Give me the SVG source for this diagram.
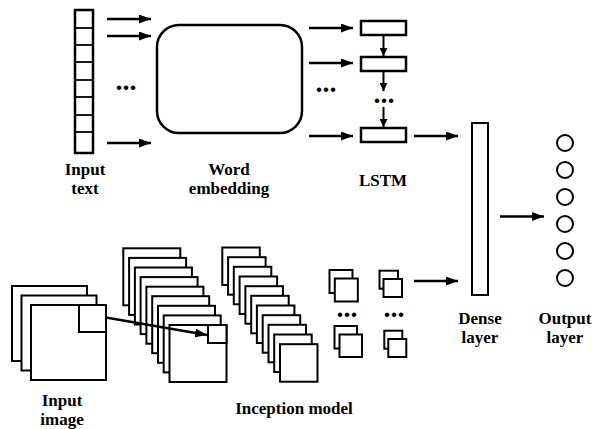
<svg xmlns="http://www.w3.org/2000/svg" width="592" height="429" viewBox="0 0 592 429">
<style>
.lbl{font-family:"Liberation Serif","Times New Roman",serif;font-weight:bold;font-size:17px;fill:#000;text-anchor:middle}
.dots{font-family:"Liberation Serif","Times New Roman",serif;font-weight:bold;font-size:28px;fill:#000}
.box{fill:#fff;stroke:#000;stroke-width:2.5}
.sq{fill:#fff;stroke:#000;stroke-width:2}
.cell{stroke:#000;stroke-width:1.8}
.arr{stroke:#000;stroke-width:2.5;fill:none;marker-end:url(#ah)}
.arrs{stroke:#000;stroke-width:2;fill:none;marker-end:url(#ahs)}
</style>
<defs>
<marker id="ah" markerUnits="userSpaceOnUse" markerWidth="12" markerHeight="9" refX="12" refY="4.5" orient="auto"><path d="M0,0 L12,4.5 L0,9 z" fill="#000"/></marker>
<marker id="ahs" markerUnits="userSpaceOnUse" markerWidth="8" markerHeight="8" refX="8" refY="4" orient="auto"><path d="M0,0 L8,4 L0,8 z" fill="#000"/></marker>
</defs>
<rect width="592" height="429" fill="#fff"/>

<g id="input-text">
<rect class="box" x="75" y="10" width="18" height="143"/>
<line class="cell" x1="75" y1="28" x2="93" y2="28"/>
<line class="cell" x1="75" y1="45" x2="93" y2="45"/>
<line class="cell" x1="75" y1="62" x2="93" y2="62"/>
<line class="cell" x1="75" y1="80" x2="93" y2="80"/>
<line class="cell" x1="75" y1="97" x2="93" y2="97"/>
<line class="cell" x1="75" y1="115" x2="93" y2="115"/>
<line class="cell" x1="75" y1="132" x2="93" y2="132"/>
<text class="lbl" x="85" y="175">Input</text>
<text class="lbl" x="85" y="194">text</text>
</g>

<g id="word-embedding">
<rect class="box" x="157" y="25" width="145" height="108" rx="22" ry="22"/>
<text class="lbl" x="229" y="175">Word</text>
<text class="lbl" x="229" y="194">embedding</text>
</g>

<g id="lstm">
<rect class="box" x="361" y="21" width="45" height="14"/>
<rect class="box" x="361" y="57" width="45" height="14"/>
<rect class="box" x="361" y="128" width="45" height="14"/>
<text class="dots" x="373.5" y="102.5">...</text>
<text class="lbl" x="383" y="186">LSTM</text>
</g>

<g id="dense-layer">
<rect class="sq" x="472" y="123" width="16" height="172"/>
<text class="lbl" x="480" y="324">Dense</text>
<text class="lbl" x="480" y="343">layer</text>
</g>

<g id="output-layer">
<circle class="sq" cx="565" cy="143" r="8"/>
<circle class="sq" cx="565" cy="170" r="8"/>
<circle class="sq" cx="565" cy="197" r="8"/>
<circle class="sq" cx="565" cy="224" r="8"/>
<circle class="sq" cx="565" cy="251" r="8"/>
<circle class="sq" cx="565" cy="278" r="8"/>
<text class="lbl" x="565" y="324">Output</text>
<text class="lbl" x="565" y="343">layer</text>
</g>

<g id="input-image">
<rect class="sq" x="12" y="286" width="75" height="75"/>
<rect class="sq" x="21.5" y="295.5" width="75" height="75"/>
<rect class="sq" x="31" y="305" width="75" height="75"/>
<rect class="sq" x="79" y="305" width="27" height="27"/>
<text class="lbl" x="62" y="406">Input</text>
<text class="lbl" x="62" y="425">image</text>
</g>

<g id="inception-model">
<g id="stack1">
<rect class="sq" x="123.3" y="248.3" width="57" height="57"/>
<rect class="sq" x="129.1" y="257.9" width="57" height="57"/>
<rect class="sq" x="134.9" y="267.5" width="57" height="57"/>
<rect class="sq" x="140.6" y="277.1" width="57" height="57"/>
<rect class="sq" x="146.4" y="286.7" width="57" height="57"/>
<rect class="sq" x="152.2" y="296.2" width="57" height="57"/>
<rect class="sq" x="158" y="305.8" width="57" height="57"/>
<rect class="sq" x="163.7" y="315.4" width="57" height="57"/>
<rect class="sq" x="169.5" y="325" width="57" height="57"/>
<rect class="sq" x="208" y="325" width="18.5" height="18"/>
</g>
<g id="stack2">
<rect class="sq" x="222.3" y="247.5" width="37.5" height="37.5"/>
<rect class="sq" x="228.1" y="257.2" width="37.5" height="37.5"/>
<rect class="sq" x="233.8" y="266.8" width="37.5" height="37.5"/>
<rect class="sq" x="239.6" y="276.5" width="37.5" height="37.5"/>
<rect class="sq" x="245.4" y="286.2" width="37.5" height="37.5"/>
<rect class="sq" x="251.2" y="295.8" width="37.5" height="37.5"/>
<rect class="sq" x="256.9" y="305.5" width="37.5" height="37.5"/>
<rect class="sq" x="262.7" y="315.2" width="37.5" height="37.5"/>
<rect class="sq" x="268.5" y="324.8" width="37.5" height="37.5"/>
<rect class="sq" x="274.2" y="334.5" width="37.5" height="37.5"/>
<rect class="sq" x="280" y="344.2" width="37.5" height="37.5"/>
</g>
<g id="stack3">
<rect class="sq" x="329.5" y="270" width="23" height="23"/>
<rect class="sq" x="334.8" y="278.5" width="23" height="23"/>
<rect class="sq" x="334.5" y="326" width="22.5" height="22.5"/>
<rect class="sq" x="339.5" y="334.5" width="22.5" height="22.5"/>
<text class="dots" x="336.5" y="316.5">...</text>
</g>
<g id="stack4">
<rect class="sq" x="379.5" y="270.7" width="18.5" height="18"/>
<rect class="sq" x="383.5" y="279" width="18.5" height="18"/>
<rect class="sq" x="384.3" y="330.7" width="18" height="18"/>
<rect class="sq" x="388.3" y="339" width="18" height="18"/>
<text class="dots" x="383.5" y="316.5">...</text>
</g>
<text class="lbl" x="294" y="414">Inception model</text>
</g>

<g id="connectors">
<line class="arr" x1="107" y1="19" x2="151" y2="19"/>
<line class="arr" x1="107" y1="36" x2="151" y2="36"/>
<line class="arr" x1="107" y1="143" x2="151" y2="143"/>
<text class="dots" x="115.5" y="89.5">...</text>
<line class="arr" x1="309" y1="28" x2="353" y2="28"/>
<line class="arr" x1="309" y1="63" x2="353" y2="63"/>
<line class="arr" x1="309" y1="136" x2="353" y2="136"/>
<text class="dots" x="315.5" y="91.5">...</text>
<line class="arrs" x1="383.5" y1="35" x2="383.5" y2="56"/>
<line class="arrs" x1="383.5" y1="72" x2="383.5" y2="91"/>
<line class="arrs" x1="383.5" y1="107" x2="383.5" y2="127"/>
<line class="arr" x1="414" y1="136" x2="458" y2="136"/>
<line class="arr" x1="414" y1="281" x2="458" y2="281"/>
<line class="arr" x1="500" y1="216.5" x2="544" y2="216.5"/>
<line class="arr" x1="106" y1="317.5" x2="207" y2="335"/>
</g>
</svg>
